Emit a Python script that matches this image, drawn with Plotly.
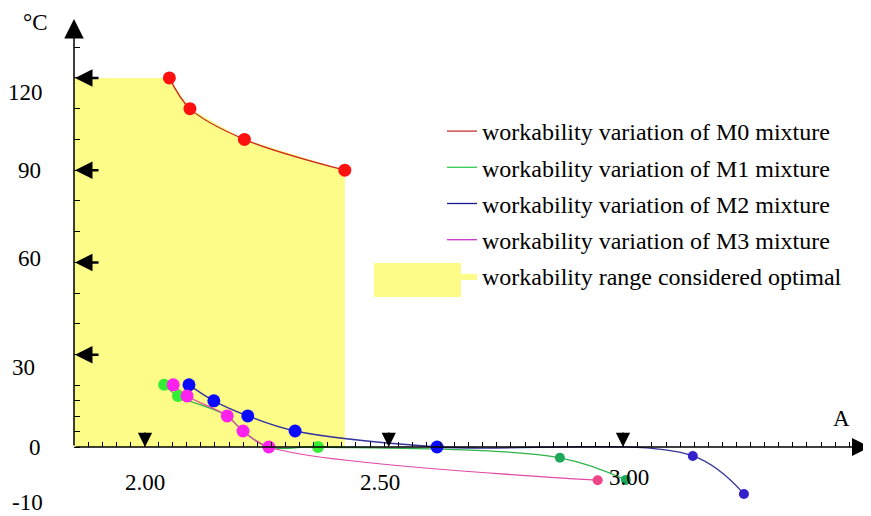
import numpy as np
import plotly.graph_objects as go

# ---------------- data ----------------
m0_x = [2.051, 2.094, 2.208, 2.418]
m0_y = [120.0, 110.0, 100.0, 90.0]

m1_x = [2.040, 2.069, 2.172, 2.205, 2.259, 2.362, 2.868, 3.006]
m1_y = [20.2, 16.6, 10.1, 5.2, 0.0, 0.0, -3.5, -10.7]

m2_x = [2.092, 2.144, 2.215, 2.314, 2.611, 3.146, 3.253]
m2_y = [20.2, 15.0, 10.1, 5.2, 0.0, -2.9, -15.3]

m3_x = [2.059, 2.088, 2.172, 2.205, 2.259, 2.947]
m3_y = [20.2, 16.6, 10.1, 5.2, 0.0, -10.8]

series_names = [
    "workability variation of M0 mixture",
    "workability variation of M1 mixture",
    "workability variation of M2 mixture",
    "workability variation of M3 mixture",
]
optimal_name = "workability range considered optimal"

arrow_levels = [120, 90, 60, 30]          # left-pointing arrows on the y axis
x_marks = [2.0, 2.51, 3.0]                # down triangles on the x axis
y_tick_vals = [0, 5, 10, 15, 20, 30, 40, 50, 60, 70, 80, 90, 100, 110, 120, 130]
y_label_text = ["120", "90", "60", "30", "0", "-10"]
x_label_text = ["2.00", "2.50", "3.00"]

# ---------------- layout calibration (screen pixels) ----------------
OFF = 8                      # page body margin
W, H = 871 - OFF, 516 - OFF
PL, PR, PT, PB = 74, 870, 15, 511   # plot area in screen px
ML, MR, MT, MB = PL - OFF, (W + OFF) - PR, PT - OFF, (H + OFF) - PB
PXU = 478.0   # pixels per x unit
PYU = 3.076   # pixels per y unit

def xv(px):
    return 2.0 + (px - 145) / PXU

def yv(py):
    return (447 - py) / PYU

X0, X1 = xv(PL), xv(PR)
Y0, Y1 = yv(PB), yv(PT)

def paper_x(px):
    return (px - PL) / (PR - PL)

def paper_y(py):
    return 1 - (py - PT) / (PB - PT)

FONT = "Liberation Serif, Times New Roman, serif"
YEL = "#fdfc88"

fig = go.Figure()

# optimal workability region (under the M0 curve)
fig.add_trace(go.Scatter(
    x=[X0] + m0_x, y=[m0_y[0]] + m0_y,
    mode="lines", line=dict(width=0, color=YEL),
    fill="tozeroy", fillcolor=YEL,
    name=optimal_name, legendgroup="g5", legendrank=5, hoverinfo="skip",
))

series = [
    (m0_x, m0_y, "#cc2a22", ["#ff1010"] * 4, [13] * 4),
    (m1_x, m1_y, "#2db34a", ["#33ee33"] * 6 + ["#1fa75a"] * 2, [12] * 6 + [10] * 2),
    (m2_x, m2_y, "#35359c", ["#0a0aff"] * 5 + ["#3322cc"] * 2, [13] * 5 + [10] * 2),
    (m3_x, m3_y, "#e04aa6", ["#ff22ee"] * 5 + ["#ee4488"], [13] * 5 + [10]),
]
legend_line_colors = ["#c83232", "#33cc55", "#1a1a8a", "#cc33cc"]
for i, (xs, ys, lc, mc, ms) in enumerate(series):
    fig.add_trace(go.Scatter(
        x=xs, y=ys, mode="lines",
        line=dict(color=lc, width=1.3, shape="spline"),
        name=series_names[i], legendgroup="g%d" % (i + 1), legendrank=i + 1,
        showlegend=False,
    ))
for i, (xs, ys, lc, mc, ms) in enumerate(series):
    fig.add_trace(go.Scatter(
        x=xs, y=ys, mode="markers",
        marker=dict(color=mc, size=ms, opacity=1, line=dict(width=0)),
        name=series_names[i], legendgroup="g%d" % (i + 1), showlegend=False,
    ))
# legend entries (line-only swatches)
for i in range(4):
    fig.add_trace(go.Scatter(
        x=[None], y=[None], mode="lines",
        line=dict(color=legend_line_colors[i], width=1.3),
        name=series_names[i], legendgroup="g%d" % (i + 1), legendrank=i + 1,
    ))

ann = []
# y axis line with arrow
ann.append(dict(x=X0, y=yv(19), ax=X0, ay=0, xref="x", yref="y", axref="x", ayref="y",
                text="", showarrow=True, arrowhead=2, arrowsize=2.6, arrowwidth=1.5,
                arrowcolor="black"))
# x axis line with arrow
ann.append(dict(x=xv(870), y=0, ax=X0, ay=0, xref="x", yref="y", axref="x", ayref="y",
                text="", showarrow=True, arrowhead=2, arrowsize=2.4, arrowwidth=1.5,
                arrowcolor="black"))
# left arrows on y axis
for v in arrow_levels:
    ann.append(dict(x=X0, y=v, ax=26, ay=0, xref="x", yref="y", text="",
                    showarrow=True, arrowhead=2, arrowsize=1.4, arrowwidth=2.5,
                    arrowcolor="black", standoff=1))
# down triangles on x axis
for v in x_marks:
    ann.append(dict(x=v, y=0, ax=0, ay=-16, xref="x", yref="y", text="",
                    showarrow=True, arrowhead=2, arrowsize=1.9, arrowwidth=1.5,
                    arrowcolor="black"))

lab_font = dict(family=FONT, size=23, color="black")
# y labels (as placed in the original)
y_lab_pos = [115.1, 90.05, 61.4, 25.7, -0.3, -18.2]
y_lab_shift = [-29, -31, -31, -37, -31, -29]
for t, p, s in zip(y_label_text, y_lab_pos, y_lab_shift):
    ann.append(dict(x=X0, y=p, xref="x", yref="y", text=t, showarrow=False,
                    xanchor="right", yanchor="middle", xshift=s, font=lab_font))
# x labels
x_lab_pos = [(xv(145), yv(482)), (xv(380), yv(482)), (xv(629), yv(477))]
for t, (px_, py_) in zip(x_label_text, x_lab_pos):
    ann.append(dict(x=px_, y=py_, xref="x", yref="y", text=t, showarrow=False,
                    xanchor="center", yanchor="middle", font=lab_font))
# axis titles
ann.append(dict(x=X0, y=yv(22), xref="x", yref="y", text="°C", showarrow=False,
                xanchor="center", yanchor="middle", xshift=-39, font=lab_font))
ann.append(dict(x=xv(841), y=yv(418), xref="x", yref="y", text="A", showarrow=False,
                xanchor="center", yanchor="middle", font=lab_font))

shapes = [dict(type="rect", xref="paper", yref="paper",
               x0=paper_x(374), x1=paper_x(461), y0=paper_y(297), y1=paper_y(263),
               fillcolor=YEL, line=dict(width=0), layer="above")]

x_ticks = list(X0 + np.arange(0, 56) * (14.096 / PXU))

fig.update_layout(
    width=W, height=H,
    margin=dict(l=ML, r=MR, t=MT, b=MB),
    paper_bgcolor="white", plot_bgcolor="white",
    showlegend=True,
    legend=dict(x=paper_x(442), y=paper_y(109), xanchor="left", yanchor="top",
                bgcolor="rgba(0,0,0,0)", font=dict(family=FONT, size=24, color="black"),
                tracegroupgap=2, itemclick=False),
    xaxis=dict(range=[X0, X1], showgrid=False, zeroline=False, showline=False,
               anchor="free", position=(0 - Y0) / (Y1 - Y0),
               ticks="inside", ticklen=5, tickwidth=1.2, tickcolor="black",
               tickvals=x_ticks, showticklabels=False),
    yaxis=dict(range=[Y0, Y1], showgrid=False, zeroline=False, showline=False,
               ticks="inside", ticklen=6, tickwidth=1.3, tickcolor="black",
               tickvals=y_tick_vals, showticklabels=False),
    annotations=ann,
    shapes=shapes,
)

fig.write_html("out.html")
